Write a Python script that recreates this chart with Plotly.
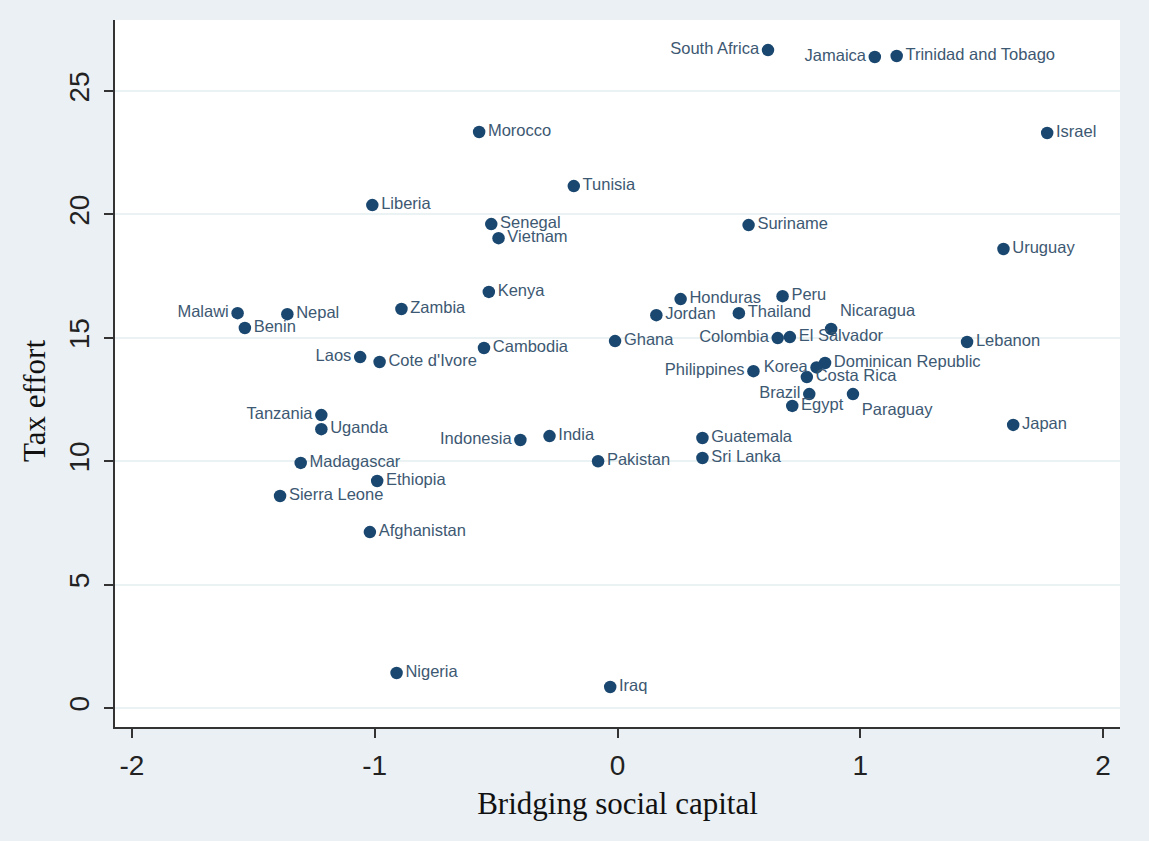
import plotly.graph_objects as go

countries = ["South Africa", "Jamaica", "Trinidad and Tobago", "Israel", "Morocco", "Tunisia",
             "Liberia", "Senegal", "Vietnam", "Suriname", "Uruguay", "Kenya", "Zambia", "Malawi",
             "Nepal", "Benin", "Honduras", "Peru", "Jordan", "Thailand", "Nicaragua", "El Salvador",
             "Colombia", "Ghana", "Lebanon", "Cambodia", "Laos", "Cote d'Ivore", "Dominican Republic",
             "Korea", "Costa Rica", "Philippines", "Brazil", "Paraguay", "Egypt", "Japan", "Tanzania",
             "Uganda", "Indonesia", "India", "Guatemala", "Pakistan", "Sri Lanka", "Madagascar",
             "Ethiopia", "Sierra Leone", "Afghanistan", "Nigeria", "Iraq"]
bridging = [0.62, 1.06, 1.15, 1.77, -0.57, -0.18,
            -1.01, -0.52, -0.49, 0.54, 1.59, -0.53, -0.89, -1.565,
            -1.36, -1.535, 0.26, 0.68, 0.16, 0.50, 0.88, 0.71,
            0.66, -0.01, 1.44, -0.55, -1.06, -0.98, 0.855,
            0.82, 0.78, 0.56, 0.79, 0.97, 0.72, 1.63, -1.22,
            -1.22, -0.40, -0.28, 0.35, -0.08, 0.35, -1.305,
            -0.99, -1.39, -1.02, -0.91, -0.03]
tax_effort = [26.66, 26.38, 26.42, 23.30, 23.34, 21.15,
              20.38, 19.61, 19.04, 19.57, 18.60, 16.86, 16.17, 16.00,
              15.96, 15.40, 16.57, 16.69, 15.92, 16.00, 15.36, 15.03,
              14.99, 14.87, 14.83, 14.59, 14.22, 14.02, 13.98,
              13.80, 13.41, 13.65, 12.72, 12.72, 12.24, 11.47, 11.87,
              11.30, 10.86, 11.02, 10.94, 10.00, 10.13, 9.93,
              9.20, 8.59, 7.13, 1.42, 0.85]
label_pos = ["middle left", "middle left", "middle right", "middle right", "middle right", "middle right",
             "middle right", "middle right", "middle right", "middle right", "middle right", "middle right",
             "middle right", "middle left",
             "middle right", "middle right", "middle right", "middle right", "middle right", "middle right",
             "top right", "middle right",
             "middle left", "middle right", "middle right", "middle right", "middle left", "middle right",
             "middle right",
             "middle left", "middle right", "middle left", "middle left", "bottom right", "middle right",
             "middle right", "middle left",
             "middle right", "middle left", "middle right", "middle right", "middle right", "middle right",
             "middle right",
             "middle right", "middle right", "middle right", "middle right", "middle right"]

x_ticks = [-2, -1, 0, 1, 2]
y_ticks = [0, 5, 10, 15, 20, 25]

fig = go.Figure()
fig.add_trace(go.Scatter(
    x=bridging, y=tax_effort, text=countries, mode="markers+text",
    textposition=label_pos,
    marker=dict(color="#1a476f", size=12.5, line=dict(width=0)),
    textfont=dict(family="Liberation Sans", size=16.5, color="#3d5872"),
    cliponaxis=False, showlegend=False,
))

fig.update_layout(
    width=1149, height=841,
    margin=dict(l=115, r=29, t=20, b=114),
    paper_bgcolor="#eaf0f3", plot_bgcolor="#ffffff",
    xaxis=dict(
        range=[-2.07, 2.07], tickvals=x_ticks, ticktext=[str(v) for v in x_ticks],
        showgrid=False, zeroline=False, showline=True, linecolor="#333333", linewidth=1.5,
        ticks="outside", ticklen=9, tickcolor="#333333", tickwidth=1.5,
        ticklabelstandoff=4,
        tickfont=dict(family="Liberation Sans", size=28, color="#222222"),
        title=dict(text="Bridging social capital", standoff=12,
                   font=dict(family="Liberation Serif", size=31, color="#111111")),
    ),
    yaxis=dict(
        range=[-0.77, 27.88], tickvals=y_ticks, ticktext=[str(v) for v in y_ticks],
        showgrid=True, gridcolor="#eaf2f3", gridwidth=1.5, zeroline=False,
        showline=True, linecolor="#333333", linewidth=1.5,
        ticks="outside", ticklen=9, tickcolor="#333333", tickwidth=1.5, tickangle=-90,
        ticklabelstandoff=4,
        tickfont=dict(family="Liberation Sans", size=28, color="#222222"),
    ),
    annotations=[dict(
        text="Tax effort", xref="paper", yref="paper", x=-0.0806, y=0.461,
        xanchor="center", yanchor="middle", textangle=-90, showarrow=False,
        font=dict(family="Liberation Serif", size=31, color="#111111"),
    )],
)

fig.write_html("out.html")
